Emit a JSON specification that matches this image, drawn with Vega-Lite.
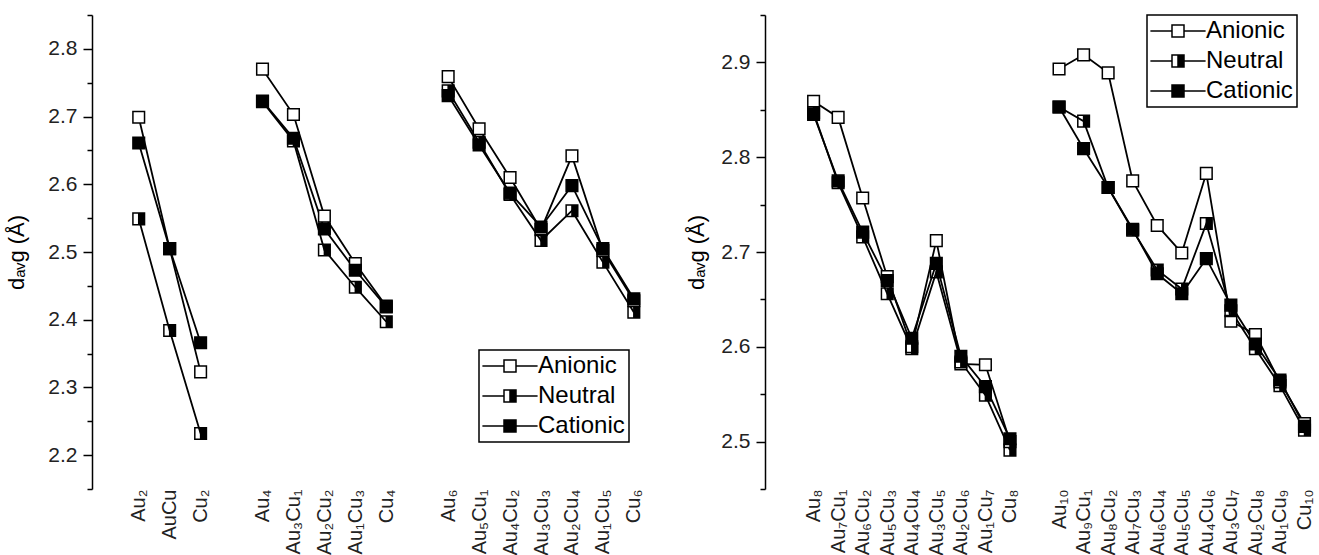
{
  "$schema": "https://vega.github.io/schema/vega-lite/v6.json",
  "autosize": {"type": "pad"},
  "padding": {"left": 5, "top": 14, "right": 0, "bottom": 0},
  "background": "white",
  "bounds": "flush",
  "spacing": 116,
  "config": {
    "view": {"stroke": null},
    "font": "Liberation Sans",
    "axis": {"grid": false, "labelFont": "Liberation Sans", "titleFont": "Liberation Sans"},
    "legend": {"strokeWidth": 1.5}
  },
  "datasets": {
    "left": [
      {"cluster": "Au₂", "size": 2, "state": "Anionic", "davg": 2.699},
      {"cluster": "AuCu", "size": 2, "state": "Anionic", "davg": 2.505},
      {"cluster": "Cu₂", "size": 2, "state": "Anionic", "davg": 2.323},
      {"cluster": "Au₄", "size": 4, "state": "Anionic", "davg": 2.770},
      {"cluster": "Au₃Cu₁", "size": 4, "state": "Anionic", "davg": 2.703},
      {"cluster": "Au₂Cu₂", "size": 4, "state": "Anionic", "davg": 2.553},
      {"cluster": "Au₁Cu₃", "size": 4, "state": "Anionic", "davg": 2.483},
      {"cluster": "Cu₄", "size": 4, "state": "Anionic", "davg": 2.420},
      {"cluster": "Au₆", "size": 6, "state": "Anionic", "davg": 2.759},
      {"cluster": "Au₅Cu₁", "size": 6, "state": "Anionic", "davg": 2.682},
      {"cluster": "Au₄Cu₂", "size": 6, "state": "Anionic", "davg": 2.610},
      {"cluster": "Au₃Cu₃", "size": 6, "state": "Anionic", "davg": 2.533},
      {"cluster": "Au₂Cu₄", "size": 6, "state": "Anionic", "davg": 2.642},
      {"cluster": "Au₁Cu₅", "size": 6, "state": "Anionic", "davg": 2.502},
      {"cluster": "Cu₆", "size": 6, "state": "Anionic", "davg": 2.428},
      {"cluster": "Au₂", "size": 2, "state": "Neutral", "davg": 2.549},
      {"cluster": "AuCu", "size": 2, "state": "Neutral", "davg": 2.384},
      {"cluster": "Cu₂", "size": 2, "state": "Neutral", "davg": 2.232},
      {"cluster": "Au₄", "size": 4, "state": "Neutral", "davg": 2.722},
      {"cluster": "Au₃Cu₁", "size": 4, "state": "Neutral", "davg": 2.664},
      {"cluster": "Au₂Cu₂", "size": 4, "state": "Neutral", "davg": 2.503},
      {"cluster": "Au₁Cu₃", "size": 4, "state": "Neutral", "davg": 2.448},
      {"cluster": "Cu₄", "size": 4, "state": "Neutral", "davg": 2.397},
      {"cluster": "Au₆", "size": 6, "state": "Neutral", "davg": 2.738},
      {"cluster": "Au₅Cu₁", "size": 6, "state": "Neutral", "davg": 2.662},
      {"cluster": "Au₄Cu₂", "size": 6, "state": "Neutral", "davg": 2.585},
      {"cluster": "Au₃Cu₃", "size": 6, "state": "Neutral", "davg": 2.517},
      {"cluster": "Au₂Cu₄", "size": 6, "state": "Neutral", "davg": 2.561},
      {"cluster": "Au₁Cu₅", "size": 6, "state": "Neutral", "davg": 2.485},
      {"cluster": "Cu₆", "size": 6, "state": "Neutral", "davg": 2.411},
      {"cluster": "Au₂", "size": 2, "state": "Cationic", "davg": 2.661},
      {"cluster": "AuCu", "size": 2, "state": "Cationic", "davg": 2.505},
      {"cluster": "Cu₂", "size": 2, "state": "Cationic", "davg": 2.366},
      {"cluster": "Au₄", "size": 4, "state": "Cationic", "davg": 2.723},
      {"cluster": "Au₃Cu₁", "size": 4, "state": "Cationic", "davg": 2.668},
      {"cluster": "Au₂Cu₂", "size": 4, "state": "Cationic", "davg": 2.534},
      {"cluster": "Au₁Cu₃", "size": 4, "state": "Cationic", "davg": 2.473},
      {"cluster": "Cu₄", "size": 4, "state": "Cationic", "davg": 2.419},
      {"cluster": "Au₆", "size": 6, "state": "Cationic", "davg": 2.731},
      {"cluster": "Au₅Cu₁", "size": 6, "state": "Cationic", "davg": 2.658},
      {"cluster": "Au₄Cu₂", "size": 6, "state": "Cationic", "davg": 2.587},
      {"cluster": "Au₃Cu₃", "size": 6, "state": "Cationic", "davg": 2.537},
      {"cluster": "Au₂Cu₄", "size": 6, "state": "Cationic", "davg": 2.598},
      {"cluster": "Au₁Cu₅", "size": 6, "state": "Cationic", "davg": 2.505},
      {"cluster": "Cu₆", "size": 6, "state": "Cationic", "davg": 2.431}
    ],
    "right": [
      {"cluster": "Au₈", "size": 8, "state": "Anionic", "davg": 2.859},
      {"cluster": "Au₇Cu₁", "size": 8, "state": "Anionic", "davg": 2.842},
      {"cluster": "Au₆Cu₂", "size": 8, "state": "Anionic", "davg": 2.757},
      {"cluster": "Au₅Cu₃", "size": 8, "state": "Anionic", "davg": 2.674},
      {"cluster": "Au₄Cu₄", "size": 8, "state": "Anionic", "davg": 2.600},
      {"cluster": "Au₃Cu₅", "size": 8, "state": "Anionic", "davg": 2.712},
      {"cluster": "Au₂Cu₆", "size": 8, "state": "Anionic", "davg": 2.582},
      {"cluster": "Au₁Cu₇", "size": 8, "state": "Anionic", "davg": 2.581},
      {"cluster": "Cu₈", "size": 8, "state": "Anionic", "davg": 2.500},
      {"cluster": "Au₁₀", "size": 10, "state": "Anionic", "davg": 2.893},
      {"cluster": "Au₉Cu₁", "size": 10, "state": "Anionic", "davg": 2.908},
      {"cluster": "Au₈Cu₂", "size": 10, "state": "Anionic", "davg": 2.889},
      {"cluster": "Au₇Cu₃", "size": 10, "state": "Anionic", "davg": 2.775},
      {"cluster": "Au₆Cu₄", "size": 10, "state": "Anionic", "davg": 2.728},
      {"cluster": "Au₅Cu₅", "size": 10, "state": "Anionic", "davg": 2.699},
      {"cluster": "Au₄Cu₆", "size": 10, "state": "Anionic", "davg": 2.783},
      {"cluster": "Au₃Cu₇", "size": 10, "state": "Anionic", "davg": 2.627},
      {"cluster": "Au₂Cu₈", "size": 10, "state": "Anionic", "davg": 2.613},
      {"cluster": "Au₁Cu₉", "size": 10, "state": "Anionic", "davg": 2.563},
      {"cluster": "Cu₁₀", "size": 10, "state": "Anionic", "davg": 2.519},
      {"cluster": "Au₈", "size": 8, "state": "Neutral", "davg": 2.847},
      {"cluster": "Au₇Cu₁", "size": 8, "state": "Neutral", "davg": 2.773},
      {"cluster": "Au₆Cu₂", "size": 8, "state": "Neutral", "davg": 2.716},
      {"cluster": "Au₅Cu₃", "size": 8, "state": "Neutral", "davg": 2.656},
      {"cluster": "Au₄Cu₄", "size": 8, "state": "Neutral", "davg": 2.598},
      {"cluster": "Au₃Cu₅", "size": 8, "state": "Neutral", "davg": 2.679},
      {"cluster": "Au₂Cu₆", "size": 8, "state": "Neutral", "davg": 2.584},
      {"cluster": "Au₁Cu₇", "size": 8, "state": "Neutral", "davg": 2.549},
      {"cluster": "Cu₈", "size": 8, "state": "Neutral", "davg": 2.491},
      {"cluster": "Au₁₀", "size": 10, "state": "Neutral", "davg": 2.853},
      {"cluster": "Au₉Cu₁", "size": 10, "state": "Neutral", "davg": 2.838},
      {"cluster": "Au₈Cu₂", "size": 10, "state": "Neutral", "davg": 2.768},
      {"cluster": "Au₇Cu₃", "size": 10, "state": "Neutral", "davg": 2.723},
      {"cluster": "Au₆Cu₄", "size": 10, "state": "Neutral", "davg": 2.681},
      {"cluster": "Au₅Cu₅", "size": 10, "state": "Neutral", "davg": 2.661},
      {"cluster": "Au₄Cu₆", "size": 10, "state": "Neutral", "davg": 2.730},
      {"cluster": "Au₃Cu₇", "size": 10, "state": "Neutral", "davg": 2.638},
      {"cluster": "Au₂Cu₈", "size": 10, "state": "Neutral", "davg": 2.598},
      {"cluster": "Au₁Cu₉", "size": 10, "state": "Neutral", "davg": 2.559},
      {"cluster": "Cu₁₀", "size": 10, "state": "Neutral", "davg": 2.512},
      {"cluster": "Au₈", "size": 8, "state": "Cationic", "davg": 2.845},
      {"cluster": "Au₇Cu₁", "size": 8, "state": "Cationic", "davg": 2.775},
      {"cluster": "Au₆Cu₂", "size": 8, "state": "Cationic", "davg": 2.721},
      {"cluster": "Au₅Cu₃", "size": 8, "state": "Cationic", "davg": 2.670},
      {"cluster": "Au₄Cu₄", "size": 8, "state": "Cationic", "davg": 2.609},
      {"cluster": "Au₃Cu₅", "size": 8, "state": "Cationic", "davg": 2.688},
      {"cluster": "Au₂Cu₆", "size": 8, "state": "Cationic", "davg": 2.590},
      {"cluster": "Au₁Cu₇", "size": 8, "state": "Cationic", "davg": 2.558},
      {"cluster": "Cu₈", "size": 8, "state": "Cationic", "davg": 2.503},
      {"cluster": "Au₁₀", "size": 10, "state": "Cationic", "davg": 2.853},
      {"cluster": "Au₉Cu₁", "size": 10, "state": "Cationic", "davg": 2.809},
      {"cluster": "Au₈Cu₂", "size": 10, "state": "Cationic", "davg": 2.768},
      {"cluster": "Au₇Cu₃", "size": 10, "state": "Cationic", "davg": 2.724},
      {"cluster": "Au₆Cu₄", "size": 10, "state": "Cationic", "davg": 2.677},
      {"cluster": "Au₅Cu₅", "size": 10, "state": "Cationic", "davg": 2.656},
      {"cluster": "Au₄Cu₆", "size": 10, "state": "Cationic", "davg": 2.693},
      {"cluster": "Au₃Cu₇", "size": 10, "state": "Cationic", "davg": 2.644},
      {"cluster": "Au₂Cu₈", "size": 10, "state": "Cationic", "davg": 2.603},
      {"cluster": "Au₁Cu₉", "size": 10, "state": "Cationic", "davg": 2.565},
      {"cluster": "Cu₁₀", "size": 10, "state": "Cationic", "davg": 2.516}
    ]
  },
  "hconcat": [
    {
      "width": 557,
      "height": 474,
      "data": {"name": "left"},
      "encoding": {
        "x": {
          "field": "cluster", "type": "nominal",
          "scale": {"type": "point", "domain": ["Au₂", "AuCu", "Cu₂", " ", "Au₄", "Au₃Cu₁", "Au₂Cu₂", "Au₁Cu₃", "Cu₄", "  ", "Au₆", "Au₅Cu₁", "Au₄Cu₂", "Au₃Cu₃", "Au₂Cu₄", "Au₁Cu₅", "Cu₆"], "padding": 1, "align": 0.755},
          "axis": {"title": null, "domain": false, "ticks": false, "tickSize": 0, "labelAngle": -90, "labelFontSize": 20, "labelColor": "#222", "labelPadding": 0, "labelOverlap": false, "labelBound": false, "labelFlush": false}
        },
        "y": {
          "field": "davg", "type": "quantitative",
          "scale": {"domain": [2.15, 2.85], "nice": false, "zero": false},
          "axis": {
            "title": "dₐᵥg (Å)",
            "values": [2.15, 2.2, 2.25, 2.3, 2.35, 2.4, 2.45, 2.5, 2.55, 2.6, 2.65, 2.7, 2.75, 2.8, 2.85],
            "labelExpr": "abs(datum.value*10 - round(datum.value*10)) < 0.01 ? format(datum.value, '.1f') : ''",
            "tickSize": {"condition": {"test": "abs(datum.value*10 - round(datum.value*10)) < 0.01", "value": 9}, "value": 5},
            "tickColor": "black", "tickWidth": 1.5, "domainColor": "black", "domainWidth": 1.5,
            "labelFontSize": 21, "labelColor": "#222", "labelPadding": 6,
            "titleFontSize": 22, "titleFontWeight": "normal", "titleColor": "black", "titlePadding": 19
          }
        }
      },
      "layer": [
        {"mark": {"type": "line", "color": "black", "strokeWidth": 1.8}, "encoding": {"detail": [{"field": "state"}, {"field": "size"}], "order": {"value": null}}},
        {
          "mark": {"type": "point", "filled": true, "stroke": "black", "strokeWidth": 1.5, "size": 135, "opacity": 1},
          "encoding": {
            "shape": {"field": "state", "type": "nominal", "scale": {"domain": ["Anionic", "Neutral", "Cationic"], "range": ["M-1,-1H1V1H-1Z", "M-1,-1H1V1H-1ZM0,-1H-1V1H0Z", "M-1,-1H1V1H-1Z"]}, "legend": null},
            "fill": {"field": "state", "type": "nominal", "scale": {"domain": ["Anionic", "Neutral", "Cationic"], "range": ["white", "black", "black"]}, "legend": null}
          }
        },
        {
          "mark": {"type": "point", "filled": true, "stroke": "black", "strokeWidth": 1.5, "size": 0, "opacity": 1},
          "encoding": {
            "shape": {"field": "state", "type": "nominal", "scale": {"domain": ["Anionic", "Neutral", "Cationic"], "range": ["M-4.6,0H-1M1,0H4.6M-1,-1H1V1H-1Z", "M-4.6,0H-1M1,0H4.6M-1,-1H1V1H-1ZM0,-1H-1V1H0Z", "M-4.6,0H-1M1,0H4.6M-1,-1H1V1H-1Z"]},
              "legend": {"title": null, "orient": "none", "legendX": 387, "legendY": 335, "strokeColor": "black", "fillColor": "white", "padding": 4, "labelFont": "Liberation Sans", "labelFontSize": 24, "labelColor": "black", "symbolSize": 144, "symbolStrokeWidth": 1.5, "symbolOffset": 15, "labelOffset": 16, "rowPadding": 6, "labelLimit": 300}},
            "fill": {"field": "state", "type": "nominal", "scale": {"domain": ["Anionic", "Neutral", "Cationic"], "range": ["white", "black", "black"]},
              "legend": {"title": null, "orient": "none", "legendX": 387, "legendY": 335, "strokeColor": "black", "fillColor": "white", "padding": 4, "labelFont": "Liberation Sans", "labelFontSize": 24, "labelColor": "black", "symbolSize": 144, "symbolStrokeWidth": 1.5, "symbolOffset": 15, "labelOffset": 16, "rowPadding": 6, "labelLimit": 300}}
          }
        }
      ],
      "resolve": {"scale": {"shape": "independent", "fill": "independent"}, "legend": {"shape": "independent", "fill": "independent"}}
    },
    {
      "width": 540,
      "height": 474,
      "data": {"name": "right"},
      "encoding": {
        "x": {
          "field": "cluster", "type": "nominal",
          "scale": {"type": "point", "domain": ["Au₈", "Au₇Cu₁", "Au₆Cu₂", "Au₅Cu₃", "Au₄Cu₄", "Au₃Cu₅", "Au₂Cu₆", "Au₁Cu₇", "Cu₈", " ", "Au₁₀", "Au₉Cu₁", "Au₈Cu₂", "Au₇Cu₃", "Au₆Cu₄", "Au₅Cu₅", "Au₄Cu₆", "Au₃Cu₇", "Au₂Cu₈", "Au₁Cu₉", "Cu₁₀"], "padding": 1, "align": 0.99},
          "axis": {"title": null, "domain": false, "ticks": false, "tickSize": 0, "labelAngle": -90, "labelFontSize": 20, "labelColor": "#222", "labelPadding": 0, "labelOverlap": false, "labelBound": false, "labelFlush": false}
        },
        "y": {
          "field": "davg", "type": "quantitative",
          "scale": {"domain": [2.45, 2.95], "nice": false, "zero": false},
          "axis": {
            "title": "dₐᵥg (Å)",
            "values": [2.45, 2.5, 2.55, 2.6, 2.65, 2.7, 2.75, 2.8, 2.85, 2.9, 2.95],
            "labelExpr": "abs(datum.value*10 - round(datum.value*10)) < 0.01 ? format(datum.value, '.1f') : ''",
            "tickSize": {"condition": {"test": "abs(datum.value*10 - round(datum.value*10)) < 0.01", "value": 9}, "value": 5},
            "tickColor": "black", "tickWidth": 1.5, "domainColor": "black", "domainWidth": 1.5,
            "labelFontSize": 21, "labelColor": "#222", "labelPadding": 6,
            "titleFontSize": 22, "titleFontWeight": "normal", "titleColor": "black", "titlePadding": 12
          }
        }
      },
      "layer": [
        {"mark": {"type": "line", "color": "black", "strokeWidth": 1.8}, "encoding": {"detail": [{"field": "state"}, {"field": "size"}], "order": {"value": null}}},
        {
          "mark": {"type": "point", "filled": true, "stroke": "black", "strokeWidth": 1.5, "size": 135, "opacity": 1},
          "encoding": {
            "shape": {"field": "state", "type": "nominal", "scale": {"domain": ["Anionic", "Neutral", "Cationic"], "range": ["M-1,-1H1V1H-1Z", "M-1,-1H1V1H-1ZM0,-1H-1V1H0Z", "M-1,-1H1V1H-1Z"]}, "legend": null},
            "fill": {"field": "state", "type": "nominal", "scale": {"domain": ["Anionic", "Neutral", "Cationic"], "range": ["white", "black", "black"]}, "legend": null}
          }
        },
        {
          "mark": {"type": "point", "filled": true, "stroke": "black", "strokeWidth": 1.5, "size": 0, "opacity": 1},
          "encoding": {
            "shape": {"field": "state", "type": "nominal", "scale": {"domain": ["Anionic", "Neutral", "Cationic"], "range": ["M-4.6,0H-1M1,0H4.6M-1,-1H1V1H-1Z", "M-4.6,0H-1M1,0H4.6M-1,-1H1V1H-1ZM0,-1H-1V1H0Z", "M-4.6,0H-1M1,0H4.6M-1,-1H1V1H-1Z"]},
              "legend": {"title": null, "orient": "none", "legendX": 382, "legendY": 0, "strokeColor": "black", "fillColor": "white", "padding": 4, "labelFont": "Liberation Sans", "labelFontSize": 24, "labelColor": "black", "symbolSize": 144, "symbolStrokeWidth": 1.5, "symbolOffset": 15, "labelOffset": 16, "rowPadding": 6, "labelLimit": 300}},
            "fill": {"field": "state", "type": "nominal", "scale": {"domain": ["Anionic", "Neutral", "Cationic"], "range": ["white", "black", "black"]},
              "legend": {"title": null, "orient": "none", "legendX": 382, "legendY": 0, "strokeColor": "black", "fillColor": "white", "padding": 4, "labelFont": "Liberation Sans", "labelFontSize": 24, "labelColor": "black", "symbolSize": 144, "symbolStrokeWidth": 1.5, "symbolOffset": 15, "labelOffset": 16, "rowPadding": 6, "labelLimit": 300}}
          }
        }
      ],
      "resolve": {"scale": {"shape": "independent", "fill": "independent"}, "legend": {"shape": "independent", "fill": "independent"}}
    }
  ],
  "resolve": {
    "scale": {"x": "independent", "y": "independent", "fill": "independent", "shape": "independent"},
    "legend": {"fill": "independent", "shape": "independent"}
  }
}
